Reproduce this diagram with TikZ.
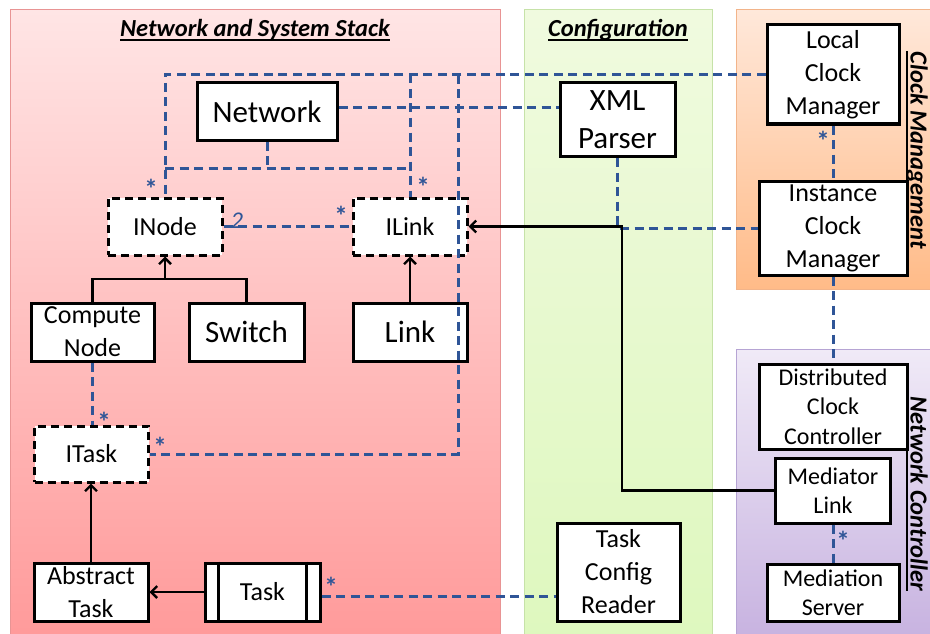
\documentclass[tikz,border=0pt]{standalone}
\usepackage{fontspec}
\setmainfont{Carlito}
\usetikzlibrary{arrows.meta}
\definecolor{cblue}{HTML}{2F5597}
\definecolor{redtop}{HTML}{FFE5E5}
\definecolor{redbot}{HTML}{FF9A9A}
\definecolor{redline}{HTML}{E89494}
\definecolor{grtop}{HTML}{F0FADF}
\definecolor{grbot}{HTML}{DEF8BE}
\definecolor{grline}{HTML}{C6E2A8}
\definecolor{ortop}{HTML}{FFE8DA}
\definecolor{orbot}{HTML}{FFBB88}
\definecolor{orline}{HTML}{F2B48A}
\definecolor{putop}{HTML}{F0EAF7}
\definecolor{pubot}{HTML}{C7B2E0}
\definecolor{puline}{HTML}{B6A4D4}
\newcommand\fsBig{\fontsize{31}{38}\selectfont}
\newcommand\fsMid{\fontsize{26}{33}\selectfont}
\newcommand\fsSmall{\fontsize{24}{29.5}\selectfont}
\newcommand\fsTitle{\fontsize{24.5}{28}\selectfont\bfseries\itshape}
\newcommand\fsStar{\fontsize{27}{27}\selectfont\bfseries}
\newcommand\fsTwo{\fontsize{24}{24}\selectfont\itshape}
\newcommand\myul[1]{\setbox0\hbox{#1}\rlap{\rule[-4.5pt]{\wd0}{1.6pt}}\box0}
\begin{document}
\begin{tikzpicture}[x=1pt,y=-1pt,
  box/.style={draw=black, line width=3pt, fill=white, inner sep=0pt, align=center, font=\fsMid},
  dbox/.style={box, dash pattern=on 8pt off 5pt},
  conn/.style={draw=cblue, line width=3pt, dash pattern=on 9pt off 5.5pt},
  solid/.style={draw=black, line width=2.3pt},
  arr/.style={solid, -{Straight Barb[length=6pt,width=12pt,line width=2.3pt]}},
  star/.style={text=cblue, inner sep=0pt, font=\fsStar},
  ttl/.style={inner sep=0pt, font=\fsTitle}]
\useasboundingbox (0,0) rectangle (930,634);
% panels
\shade[top color=redtop, bottom color=redbot] (10,10) rectangle (500,640);
\draw[redline, line width=1pt] (10,640) -- (10,10) -- (500,10) -- (500,640);
\shade[top color=grtop, bottom color=grbot] (524,10) rectangle (712,640);
\draw[grline, line width=1pt] (524,640) -- (524,10) -- (712,10) -- (712,640);
\shade[top color=ortop, bottom color=orbot] (736,10) rectangle (945,289);
\draw[orline, line width=1pt] (945,289) -- (736,289) -- (736,10) -- (945,10);
\shade[top color=putop, bottom color=pubot] (736,349) rectangle (945,640);
\draw[puline, line width=1pt] (736,640) -- (736,349) -- (945,349);
% titles
\node[ttl] (t1) at (255,30) {\myul{Network and System Stack}};
\node[ttl] (t2) at (618,30) {\myul{Configuration}};
\node[ttl, rotate=-90] (t3) at (917,150) {\myul{Clock Management}};
\node[ttl, rotate=-90] (t4) at (917,494) {\myul{Network Controller}};
% nodes
\node[box, font=\fsBig, minimum width=140pt, minimum height=57pt] (network) at (267,111.5) {Network};
\node[dbox, minimum width=114pt, minimum height=57pt] (inode) at (165,226.5) {INode};
\node[dbox, minimum width=114pt, minimum height=57pt] (ilink) at (410,226.5) {ILink};
\node[box, minimum width=123pt, minimum height=58pt] (compute) at (92.5,332) {Compute\\Node};
\node[box, font=\fsBig, minimum width=115pt, minimum height=58pt] (switch) at (246.5,332) {Switch};
\node[box, font=\fsBig, minimum width=114pt, minimum height=58pt] (link) at (410,332) {Link};
\node[dbox, minimum width=114pt, minimum height=56pt] (itask) at (91.5,454) {ITask};
\node[box, minimum width=114pt, minimum height=58pt] (abstask) at (91,592) {Abstract\\Task};
\node[box, minimum width=115pt, minimum height=58pt] (task) at (262.5,592) {Task};
\draw[line width=3pt] ([xshift=15pt]task.north west) -- ([xshift=15pt]task.south west);
\draw[line width=3pt] ([xshift=-15pt]task.north east) -- ([xshift=-15pt]task.south east);
\node[box, font=\fsBig, minimum width=115pt, minimum height=74pt] (xml) at (617.5,119.5) {XML\\Parser};
\node[box, minimum width=123pt, minimum height=98pt] (tcr) at (618.5,572) {Task\\Config\\Reader};
\node[box, minimum width=132pt, minimum height=99pt] (lcm) at (833,74.5) {Local\\Clock\\Manager};
\node[box, minimum width=148pt, minimum height=94pt] (icm) at (833,228) {Instance\\Clock\\Manager};
\node[box, font=\fsSmall, minimum width=148pt, minimum height=85pt] (dcc) at (833,406.5) {Distributed\\Clock\\Controller};
\node[box, font=\fsSmall, minimum width=115pt, minimum height=65pt] (ml) at (833,490.5) {Mediator\\Link};
\node[box, font=\fsSmall, minimum width=132pt, minimum height=57pt] (ms) at (833,592.5) {Mediation\\Server};
% helper coordinates
\coordinate (nb) at (267,168);
\coordinate (ny) at (0,108);
\coordinate (tr) at (458,75);
\coordinate (cy) at (0,279);
\coordinate (mx) at (622,0);
\coordinate (ty) at (0,596);
% dashed associations
\draw[conn] (lcm.west) -- (lcm.west -| inode.north) -- (inode.north);
\draw[conn] (ilink.north |- lcm.west) -- (ilink.north);
\draw[conn] (tr) |- (itask.east);
\draw[conn] (network.south) -- (nb);
\draw[conn] (inode.north |- nb) -- (ilink.north |- nb);
\draw[conn] (network.east |- ny) -- (xml.west |- ny);
\draw[conn] (inode.east) -- (ilink.west);
\draw[conn] (xml.south) |- (icm.west);
\draw[conn] (lcm.south) -- (icm.north);
\draw[conn] (icm.south) -- (dcc.north);
\draw[conn] (ml.south) -- (ms.north);
\draw[conn] (compute.south) -- (compute.south |- itask.north);
\draw[conn] (task.east |- ty) -- (tcr.west |- ty);
% solid arrows
\draw[solid] (compute.north) -- (compute.north |- cy) -- (switch.north |- cy) -- (switch.north);
\draw[arr] (inode.south |- cy) -- (inode.south);
\draw[arr] (link.north) -- (ilink.south);
\draw[arr] (abstask.north) -- (abstask.north |- itask.south);
\draw[arr] (task.west) -- (abstask.east);
\draw[arr] (ml.west) -- (mx |- ml.west) -- (mx |- ilink.east) -- (ilink.east);
% multiplicities
\node[star] (s1) at (151,189) {*};
\node[star] (s2) at (423,187) {*};
\node[star, font=\fsTwo] (s3) at (237,221) {2};
\node[star] (s4) at (341,216) {*};
\node[star] (s5) at (104,422) {*};
\node[star] (s6) at (160,447) {*};
\node[star] (s7) at (331,587) {*};
\node[star] (s8) at (823,141) {*};
\node[star] (s9) at (843,541) {*};
\end{tikzpicture}
\end{document}
